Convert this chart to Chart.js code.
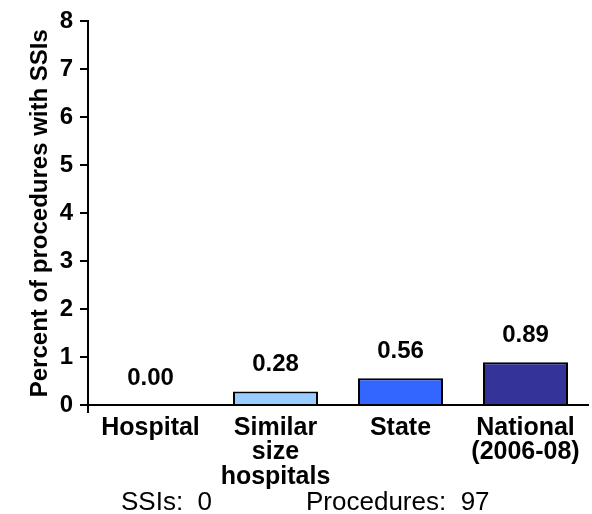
<!DOCTYPE html>
<html>
<head>
<meta charset="utf-8">
<script src="https://cdn.jsdelivr.net/npm/chart.js@4"></script>
<style>
  html, body { margin: 0; padding: 0; background: #fff; }
  #wrap { position: relative; width: 592px; height: 514px; }
</style>
</head>
<body>
<div id="wrap"><canvas id="chart" width="592" height="514"></canvas></div>
<script>
// chart data
const categories = [['Hospital'], ['Similar', 'size', 'hospitals'], ['State'], ['National', '(2006-08)']];
const rates = [0.00, 0.28, 0.56, 0.89];
const barColors = ['#99CCFF', '#99CCFF', '#3366FF', '#333399'];
const yTicks = [0, 1, 2, 3, 4, 5, 6, 7, 8];
const yTitle = 'Percent of procedures with SSIs';
const footer = [['SSIs:  0', 121], ['Procedures:  97', 306]];

const FONT = '"Liberation Sans", Arial, sans-serif';

// value labels above bars + footer text
const valueLabels = {
  id: 'valueLabels',
  afterDatasetsDraw(chart) {
    const ctx = chart.ctx;
    const meta = chart.getDatasetMeta(0);
    ctx.save();
    ctx.font = 'bold 24px ' + FONT;
    ctx.fillStyle = '#000';
    ctx.textAlign = 'center';
    ctx.textBaseline = 'middle';
    meta.data.forEach((bar, i) => {
      ctx.fillText(rates[i].toFixed(2), bar.x, bar.y - 27);
    });
    ctx.font = '26px ' + FONT;
    ctx.textAlign = 'left';
    ctx.textBaseline = 'middle';
    footer.forEach(([txt, x]) => ctx.fillText(txt, x, 503));
    ctx.restore();
  }
};

new Chart(document.getElementById('chart'), {
  type: 'bar',
  data: {
    labels: categories,
    datasets: [{
      data: rates,
      backgroundColor: barColors,
      borderColor: rates.map(v => v > 0 ? '#000' : 'transparent'),
      borderWidth: 2,
      borderSkipped: 'bottom',
      barPercentage: 0.68,
      categoryPercentage: 1
    }]
  },
  options: {
    responsive: false,
    animation: false,
    layout: { padding: { top: 21, right: 4, left: 0, bottom: 0 } },
    plugins: { legend: { display: false }, tooltip: { enabled: false } },
    scales: {
      x: {
        offset: true,
        afterFit: s => { s.height = 109; },
        border: { color: '#000', width: 2 },
        grid: {
          offset: true,
          drawOnChartArea: false,
          drawTicks: true,
          tickLength: 8,
          color: c => (c.index === 0 || c.index === categories.length) ? '#000' : 'rgba(0,0,0,0)',
          lineWidth: 2
        },
        ticks: {
          color: '#000',
          font: { family: FONT, size: 25, weight: 'bold', lineHeight: 0.97 },
          padding: 3,
          maxRotation: 0,
          autoSkip: false
        }
      },
      y: {
        min: 0,
        max: 8,
        afterFit: s => { s.width = 88; },
        afterBuildTicks: s => { s.ticks = yTicks.map(v => ({ value: v })); },
        border: { color: '#000', width: 2 },
        grid: { drawOnChartArea: false, drawTicks: true, tickLength: 8, color: '#000', lineWidth: 2 },
        ticks: {
          color: '#000',
          font: { family: FONT, size: 24, weight: 'bold' },
          padding: 7
        },
        title: {
          display: true,
          text: yTitle,
          color: '#000',
          font: { family: FONT, size: 24, weight: 'bold', lineHeight: 1.2 },
          padding: { top: 26, bottom: 0 }
        }
      }
    }
  },
  plugins: [valueLabels]
});
</script>
</body>
</html>
